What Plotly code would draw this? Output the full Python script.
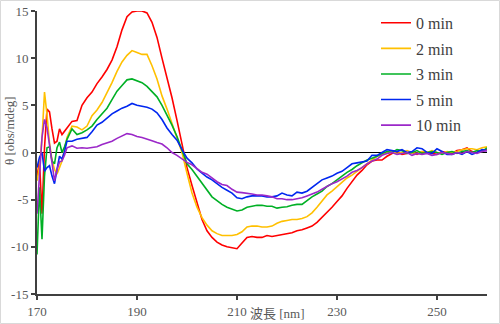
import plotly.graph_objects as go

# wavelength grid (nm): 0.5 nm steps up to 176, then 1 nm
wavelength = [170.0, 170.5, 171.0, 171.5, 172.0, 172.5, 173.0, 173.5, 174.0, 174.5, 175.0, 175.5, 176.0] + list(range(177, 261))

theta_0min = [-2.6, -0.9, -6.5, 0.5, 4.6, 4.3, 2.5, 1.0, 1.2, 2.5, 1.9, 2.2, 2.6,
    3.3, 3.4, 5.0, 5.8, 6.4, 7.3, 8.0, 8.8, 9.8, 11.2, 13.0, 14.4, 14.9, 15.0, 15.0, 14.8,
    13.8, 12.2, 10.0, 8.0, 5.8, 3.4, 1.0, -1.6, -3.5, -5.4, -7.1, -8.3, -9.0, -9.5, -9.8, -10.0,
    -10.1, -10.2, -9.6, -9.0, -8.9, -9.0, -9.0, -8.8, -8.9, -8.8, -8.7, -8.6, -8.5, -8.3, -8.2,
    -8.0, -7.8, -7.4, -6.9, -6.3, -5.8, -5.2, -4.6, -3.8, -3.1, -2.4, -1.9, -1.3, -0.9, -0.8,
    -0.8, -0.4, -0.1, 0.1, -0.2, -0.1, 0.0, -0.2, 0.1, 0.0, -0.1, -0.2, 0.1, 0.0, -0.1, 0.2,
    0.3, 0.5, 0.1, 0.0, 0.2, 0.3]

theta_2min = [-3.0, -1.5, 1.5, 6.4, 4.0, 1.0, -0.8, -1.8, -2.3, -1.6, -0.9, 0.3, 1.6,
    2.8, 2.7, 2.4, 2.8, 3.9, 4.5, 5.3, 6.3, 7.4, 8.6, 9.6, 10.3, 10.8, 10.6, 10.4, 10.4,
    9.2, 7.8, 6.0, 4.6, 3.0, 1.6, 0.0, -2.2, -4.3, -5.8, -6.9, -7.7, -8.3, -8.6, -8.8, -8.8,
    -8.8, -8.7, -8.4, -7.9, -7.8, -7.8, -7.9, -7.9, -7.8, -7.5, -7.3, -7.2, -7.1, -7.1, -7.0,
    -6.8, -6.4, -5.8, -5.1, -4.5, -4.1, -3.6, -3.1, -2.7, -2.4, -2.0, -1.6, -1.2, -0.8, -0.4,
    -0.2, 0.0, 0.1, -0.1, 0.0, 0.2, 0.0, -0.1, 0.1, 0.0, 0.2, 0.0, -0.1, 0.1, 0.0, 0.1,
    0.3, 0.4, 0.4, 0.3, 0.5, 0.6]

theta_3min = [-10.8, -3.7, -9.2, -2.5, 0.5, 0.6, -0.9, -1.2, 0.5, 1.1, 0.0, 0.6, 1.4,
    2.5, 1.9, 2.1, 2.4, 2.8, 3.5, 4.1, 4.7, 5.6, 6.5, 7.1, 7.7, 7.8, 7.6, 7.4, 7.0,
    6.4, 5.9, 5.0, 4.0, 2.9, 1.7, 0.2, -1.2, -1.8, -2.5, -3.3, -4.0, -4.7, -5.1, -5.5, -5.8,
    -6.0, -6.2, -6.1, -5.8, -5.7, -5.6, -5.6, -5.7, -5.7, -5.9, -5.8, -5.75, -5.6, -5.5, -5.5,
    -5.1, -4.7, -4.4, -4.1, -3.6, -3.3, -2.9, -2.5, -2.1, -1.8, -1.4, -1.1, -0.8, -0.6, -0.4,
    -0.1, 0.1, 0.0, 0.3, 0.2, -0.1, 0.0, 0.2, -0.1, 0.0, 0.1, 0.0, -0.2, 0.0, 0.1, -0.1,
    0.1, 0.2, 0.0, 0.2, 0.1, 0.5]

theta_5min = [-1.6, -0.5, 0.0, -2.0, -1.6, -1.4, -2.5, -3.3, -1.8, -0.4, -0.7, 0.1, 1.2,
    1.2, 1.4, 1.5, 1.6, 2.2, 2.9, 3.2, 3.7, 4.1, 4.4, 4.7, 4.9, 5.2, 5.0, 4.9, 4.8,
    4.6, 4.2, 3.5, 2.6, 1.9, 1.3, 0.3, -0.6, -1.1, -1.75, -2.2, -2.6, -2.9, -3.3, -3.7, -4.0,
    -4.3, -4.8, -4.9, -4.7, -4.6, -4.6, -4.6, -4.7, -4.7, -4.6, -4.3, -4.5, -4.6, -4.2, -4.3,
    -4.1, -3.7, -3.35, -2.9, -2.7, -2.5, -2.2, -2.0, -1.6, -1.2, -1.1, -1.0, -0.9, -0.3, -0.3,
    0.0, 0.3, 0.2, 0.1, 0.3, 0.0, 0.1, 0.5, 0.4, 0.0, -0.1, 0.4, 0.1, -0.2, -0.2, 0.0,
    -0.2, 0.1, -0.2, 0.0, 0.3, 0.2]

theta_10min = [-6.5, -2.0, 1.6, 3.5, 2.6, 0.8, -1.2, -3.0, -1.8, -1.0, -0.9, -0.3, 0.5,
    0.7, 0.45, 0.5, 0.45, 0.5, 0.6, 0.85, 1.0, 1.2, 1.5, 1.75, 2.0, 1.9, 1.7, 1.6, 1.45,
    1.25, 1.05, 0.9, 0.5, 0.0, -0.3, -0.7, -1.05, -1.3, -1.7, -2.1, -2.3, -2.7, -3.1, -3.4, -3.5,
    -3.9, -4.2, -4.25, -4.3, -4.4, -4.5, -4.5, -4.6, -4.7, -4.9, -4.9, -5.0, -5.0, -4.9, -4.8,
    -4.6, -4.4, -4.2, -3.9, -3.6, -3.3, -3.1, -2.8, -2.5, -2.1, -1.9, -1.6, -1.2, -0.9, -0.7,
    -0.3, -0.1, 0.0, -0.2, -0.1, 0.0, -0.3, -0.1, -0.2, -0.1, -0.3, -0.2, 0.0, -0.1, -0.2, 0.0,
    -0.1, 0.1, 0.0, -0.1, 0.1, 0.2]

series_names = ["0 min", "2 min", "3 min", "5 min", "10 min"]
series_values = [theta_0min, theta_2min, theta_3min, theta_5min, theta_10min]
series_colors = ["#ff0000", "#ffc000", "#00b025", "#0027f0", "#9b28c8"]

x_ticks = [170, 190, 210, 230, 250]
y_ticks = [-15, -10, -5, 0, 5, 10, 15]

SERIF = "Liberation Serif, Times New Roman, serif"
SERIF_CJK = "Liberation Serif, Noto Sans CJK JP, serif"

fig = go.Figure()
for name, vals, col in zip(series_names, series_values, series_colors):
    fig.add_trace(go.Scatter(x=wavelength, y=vals, mode="lines", name=name,
                             legendgroup=name,
                             line=dict(color=col, width=1.6)))

fig.update_layout(
    width=500, height=324,
    margin=dict(l=37, r=13, t=11, b=30, autoexpand=False),
    paper_bgcolor="white", plot_bgcolor="white",
    font=dict(family=SERIF, size=13, color="#595959"),
    showlegend=True,
    legend=dict(xref="container", yref="container", x=0.752, xanchor="left",
                y=0.982, yanchor="top",
                font=dict(family=SERIF, size=16, color="#404040"),
                bgcolor="rgba(0,0,0,0)", traceorder="grouped", tracegroupgap=1.8),
    xaxis=dict(range=[170, 260], tickvals=x_ticks, ticktext=[str(v) for v in x_ticks],
               showgrid=False, zeroline=False, showline=True, linecolor="#404040",
               linewidth=2, ticks="outside", ticklen=4, tickwidth=1.5, tickcolor="#404040",
               tickfont=dict(family=SERIF, size=13, color="#595959")),
    yaxis=dict(range=[-15, 15], tickvals=y_ticks, ticktext=[str(v) for v in y_ticks],
               showgrid=False, zeroline=True, zerolinecolor="#000000", zerolinewidth=1,
               showline=True, linecolor="#404040", linewidth=2,
               ticks="outside", ticklen=4, tickwidth=1.5, tickcolor="#404040",
               tickfont=dict(family=SERIF, size=13, color="#595959")),
    annotations=[
        dict(text="波長 [nm]", xref="paper", yref="paper", x=0.534, y=-0.068,
             xanchor="center", yanchor="middle", showarrow=False,
             font=dict(family=SERIF_CJK, size=13, color="#595959")),
        dict(text="θ [obs/mdeg]", xref="paper", yref="paper", x=-0.06, y=0.576,
             xanchor="center", yanchor="middle", showarrow=False, textangle=-90,
             font=dict(family=SERIF, size=13, color="#595959")),
    ],
    shapes=[
        dict(type="rect", xref="paper", yref="paper",
             x0=-0.0811, x1=1.0278, y0=-0.1042, y1=1.0371,
             line=dict(color="#d9d9d9", width=1), fillcolor="rgba(0,0,0,0)", layer="below"),
    ],
)

fig.write_html("out.html")
